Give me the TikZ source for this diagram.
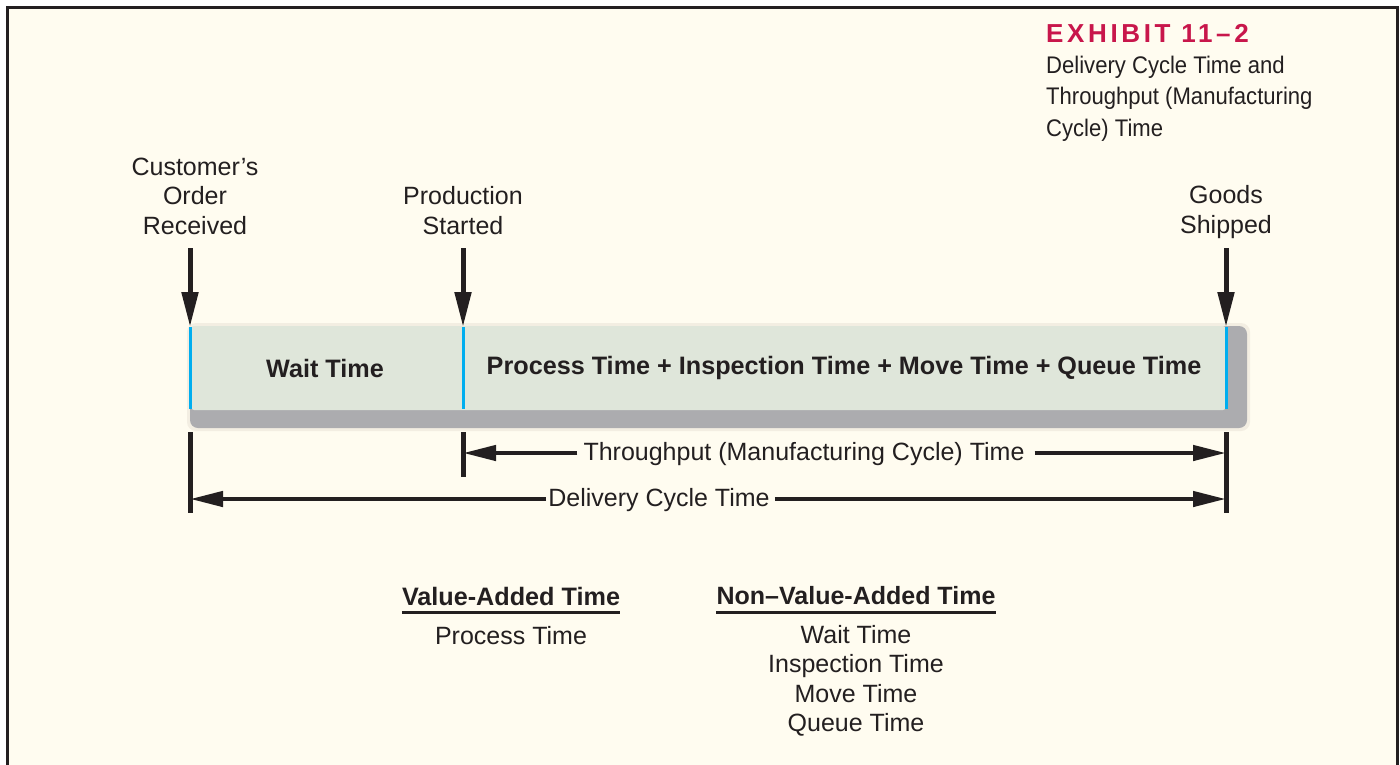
\documentclass[tikz,border=0pt]{standalone}
\usepackage{fontspec}
\setmainfont{Liberation Sans}
\usetikzlibrary{arrows.meta}
\definecolor{bgc}{RGB}{255,252,240}
\definecolor{ink}{RGB}{35,31,32}
\definecolor{barc}{RGB}{223,230,218}
\definecolor{shad}{RGB}{172,172,175}
\definecolor{halo}{RGB}{243,238,226}
\definecolor{cyanl}{RGB}{0,174,239}
\definecolor{exred}{RGB}{200,22,75}
\begin{document}
\begin{tikzpicture}[x=1pt,y=-1pt,
  lbl/.style={font=\fontsize{25}{29.5}\selectfont, text=ink, align=center, inner sep=0pt},
  blbl/.style={font=\fontsize{25.2}{29.5}\selectfont\bfseries, text=ink, align=center, inner sep=0pt},
  downarrow/.style={draw=ink, line width=5pt, -{Triangle[length=35pt,width=16pt]}},
  harrow/.style={draw=ink, line width=4.5pt, -{Triangle[length=33pt,width=15pt]}},
  tickline/.style={draw=ink, line width=5pt},
  marker/.style={draw=cyanl, line width=3pt},
  uline/.style={draw=ink, line width=3pt},
]
\useasboundingbox (0,0) rectangle (1400,764);
\fill[white] (0,0) rectangle (1400,764);
\fill[bgc] (7,7) rectangle (1397,780);
\draw[ink, line width=3pt] (7,780) -- (7,7) -- (1397,7) -- (1397,780);

% title
\node[anchor=west, inner sep=0pt, text=exred, font={\fontsize{26}{30}\addfontfeatures{LetterSpace=14}\bfseries}] (exh) at (1046,33) {EXHIBIT 11–2};
\node[anchor=west, inner sep=0pt, text=ink, align=left, font={\fontsize{24}{31.5}\addfontfeatures{FakeStretch=0.92}\selectfont}] (ttl) at (1046,98.5) {Delivery Cycle Time and\\Throughput (Manufacturing\\Cycle) Time};

% event labels
\node[lbl] (cust) at (195,196) {Customer’s\\Order\\Received};
\node[lbl] (prod) at (463,210.5) {Production\\Started};
\node[lbl] (good) at (1226,212) {Goods\\Shipped};

% bar with shadow
\fill[halo, rounded corners=9pt] (187,323) rectangle (1250,431);
\fill[shad, rounded corners=8pt] (190,326) rectangle (1247,428);
\fill[barc, rounded corners=4pt] (190,326) -- (1227,326) -- (1227,410) -- (190,410) -- cycle;

\coordinate (m1t) at (190,327); \coordinate (m1b) at (190,409);
\coordinate (m2t) at (463,327); \coordinate (m2b) at (463,409);
\coordinate (m3t) at (1226,327); \coordinate (m3b) at (1226,409);
\draw[marker] (m1t) -- (m1b);
\draw[marker] (m2t) -- (m2b);
\draw[marker] (m3t) -- (m3b);

\node[blbl] (wait) at (325,368) {Wait Time};
\node[blbl] (proc) at (844,367.5) {Process Time + Inspection Time + Move Time + Queue Time};

% down arrows
\coordinate (a1) at (190,248); \coordinate (a2) at (463,248); \coordinate (a3) at (1226,248);
\draw[downarrow] (a1) -- (m1t);
\draw[downarrow] (a2) -- (m2t);
\draw[downarrow] (a3) -- (m3t);

% ticks
\coordinate (k1t) at (190,432); \coordinate (k1b) at (190,513);
\coordinate (k2t) at (463,432); \coordinate (k2b) at (463,477);
\coordinate (k3t) at (1226,432); \coordinate (k3b) at (1226,513);
\draw[tickline] (k1t) -- (k1b);
\draw[tickline] (k2t) -- (k2b);
\draw[tickline] (k3t) -- (k3b);

% throughput
\node[lbl] (thr) at (804,454) {Throughput (Manufacturing Cycle) Time};
\coordinate (thl) at (463,453); \coordinate (thr2) at (1226,453);
\draw[harrow] ([xshift=-6pt]thl -| thr.west) -- (thl);
\draw[harrow] ([xshift=10pt]thr2 -| thr.east) -- (thr2);

% delivery
\node[lbl] (del) at (659,500) {Delivery Cycle Time};
\coordinate (dl) at (190,499); \coordinate (dr) at (1226,499);
\draw[harrow] ([xshift=-2pt]dl -| del.west) -- (dl);
\draw[harrow] ([xshift=5pt]dr -| del.east) -- (dr);

% bottom lists
\node[blbl] (va) at (511,596) {Value-Added Time};
\draw[uline] ([yshift=-7pt]va.south west) -- ([yshift=-7pt]va.south east);
\node[lbl] (val) at (511,636) {Process Time};
\node[lbl] (nva) at (856,596) {\bfseries Non–Value-Added Time};
\draw[uline] ([yshift=-7pt]nva.south west) -- ([yshift=-7pt]nva.south east);
\node[lbl] (nval) at (856,681) {Wait Time\\Inspection Time\\Move Time\\Queue Time};
\end{tikzpicture}
\end{document}
